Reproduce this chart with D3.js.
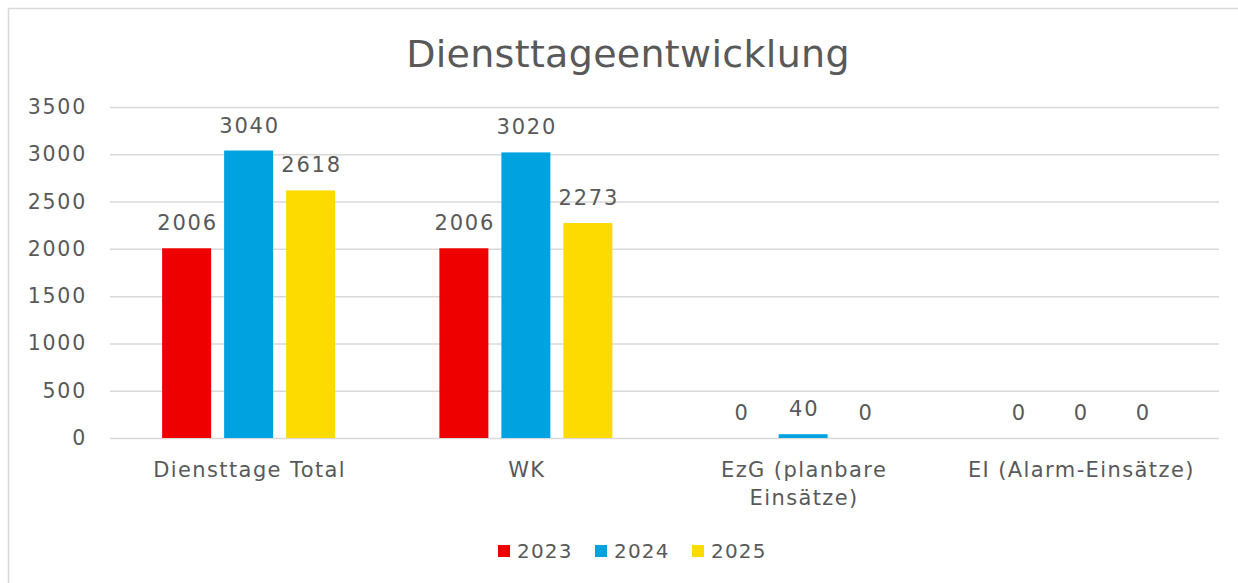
<!DOCTYPE html>
<html>
<head>
<meta charset="utf-8">
<script src="https://cdn.jsdelivr.net/npm/d3@7"></script>
<style>
  html, body { margin: 0; padding: 0; background: #fff; }
  svg { display: block; }
  text { font-family: "DejaVu Sans", sans-serif; fill: #595959; }
</style>
</head>
<body>
<svg id="chart" width="1238" height="583"></svg>
<script>
const title = "Diensttageentwicklung";
const categories = [["Diensttage Total"], ["WK"], ["EzG (planbare", "Einsätze)"], ["EI (Alarm-Einsätze)"]];
const seriesNames = ["2023", "2024", "2025"];
const values2023 = [2006, 2006, 0, 0];
const values2024 = [3040, 3020, 40, 0];
const values2025 = [2618, 2273, 0, 0];
const seriesColors = ["#EE0000", "#00A3E0", "#FDDB00"];
const yTicks = [0, 500, 1000, 1500, 2000, 2500, 3000, 3500];

const seriesValues = [values2023, values2024, values2025];
const svg = d3.select("#chart");
const W = 1238, H = 583;
const plot = { left: 110, right: 1219, top: 107, bottom: 438 };

// chart border (extends past picture on right/bottom)
svg.append("rect").attr("x", 8.5).attr("y", 8.5).attr("width", W + 20).attr("height", H + 20)
  .attr("fill", "#fff").attr("stroke", "#d9d9d9").attr("stroke-width", 1.5);

const catKeys = categories.map(c => c.join(" "));
const x0 = d3.scaleBand().domain(catKeys).range([plot.left, plot.right]).padding(0);
const x1 = d3.scaleBand().domain(seriesNames).range([-86.5, 86.5]).paddingInner(13 / 62).paddingOuter(0);
const y = d3.scaleLinear().domain([0, 3500]).range([plot.bottom, plot.top]);

// gridlines + y labels
const yAxis = d3.axisLeft(y).tickValues(yTicks).tickSize(-(plot.right - plot.left)).tickPadding(23).tickFormat(d3.format("d"));
const gy = svg.append("g").attr("transform", `translate(${plot.left},0)`).call(yAxis);
gy.select(".domain").remove();
gy.selectAll(".tick line").attr("stroke", "#d9d9d9").attr("stroke-width", 1.5);
gy.selectAll(".tick text").attr("font-size", 20.5).attr("fill", "#595959").style("letter-spacing", "1.8px")
  .attr("font-family", "DejaVu Sans");

// bars
const groups = svg.append("g").selectAll("g").data(catKeys).join("g")
  .attr("transform", d => `translate(${x0(d) + x0.bandwidth() / 2},0)`);

groups.each(function (cat, ci) {
  const g = d3.select(this);
  seriesNames.forEach((s, si) => {
    const v = seriesValues[si][ci];
    g.append("rect")
      .attr("x", x1(s)).attr("width", x1.bandwidth())
      .attr("y", y(v)).attr("height", y(0) - y(v))
      .attr("fill", seriesColors[si]);
    g.append("text")
      .attr("x", x1(s) + x1.bandwidth() / 2 + 1)
      .attr("y", y(v) - 18)
      .attr("text-anchor", "middle")
      .attr("font-size", 21).style("letter-spacing", "1.8px")
      .text(v);
  });
});

// category labels
const gx = svg.append("g");
categories.forEach((lines, i) => {
  const cx = x0(catKeys[i]) + x0.bandwidth() / 2 + 1;
  const t = gx.append("text").attr("text-anchor", "middle").attr("font-size", 21)
    .style("letter-spacing", "1.4px").attr("x", cx).attr("y", 477);
  lines.forEach((ln, li) => {
    t.append("tspan").attr("x", cx).attr("dy", li === 0 ? 0 : 28).text(ln);
  });
});

// title
svg.append("text").attr("x", 628).attr("y", 67).attr("text-anchor", "middle")
  .attr("font-size", 38).style("letter-spacing", "0.3px").text(title);

// legend
const legendItems = [{ x: 498 }, { x: 595 }, { x: 692 }];
const lg = svg.append("g");
seriesNames.forEach((s, i) => {
  lg.append("rect").attr("x", legendItems[i].x).attr("y", 545).attr("width", 12).attr("height", 12).attr("fill", seriesColors[i]);
  lg.append("text").attr("x", legendItems[i].x + 19).attr("y", 558).attr("font-size", 20).style("letter-spacing", "1.2px").text(s);
});
</script>
</body>
</html>
